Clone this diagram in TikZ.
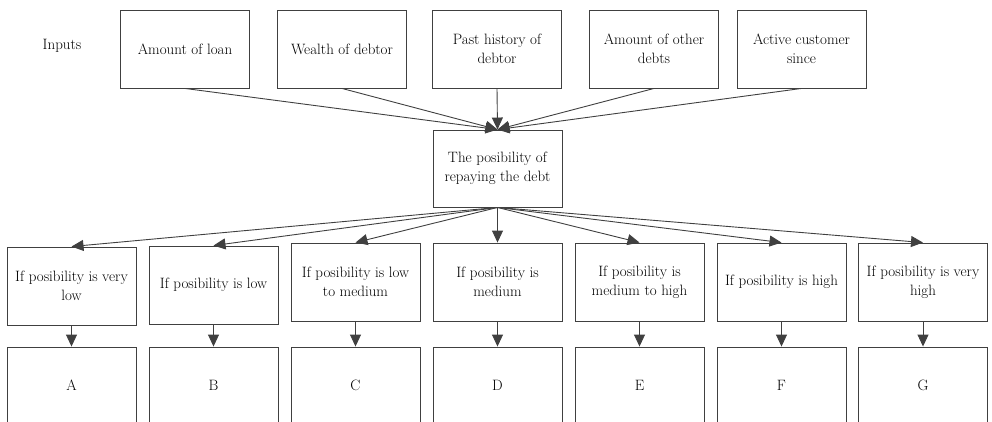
\documentclass[tikz,border=0pt]{standalone}
\usetikzlibrary{arrows.meta}
\begin{document}
\begin{tikzpicture}[x=1pt,y=-1pt,
  txt/.style={font=\rmfamily\fontsize{15}{19}\selectfont, text=black},
  box/.style={txt, draw=black!75, line width=0.9pt, minimum width=129pt, minimum height=78pt,
    inner sep=0pt, align=center},
  link/.style={draw=black!75, line width=0.9pt, -{Triangle[length=12pt,width=11pt]}}]
\useasboundingbox (0,0) rectangle (992,422);

% inputs
\node[txt] (lbl) at (62,46) {Inputs};
\node[box] (i1) at (185,49) {Amount of loan};
\node[box] (i2) at (342,49) {Wealth of debtor};
\node[box] (i3) at (497,49) {Past history of\\debtor};
\node[box] (i4) at (654,49) {Amount of other\\debts};
\node[box] (i5) at (801.5,49) {Active customer\\since};

% aggregated assessment
\node[box, minimum height=77pt] (mid) at (497.5,168.5) {The posibility of\\repaying the debt};

% conditions
\node[box] (cA) at (71.5,286) {If posibility is very\\low};
\node[box] (cB) at (213.5,285) {If posibility is low};
\node[box] (cC) at (355.5,282) {If posibility is low\\to medium};
\node[box] (cD) at (497.5,282) {If posibility is\\medium};
\node[box] (cE) at (639.5,282) {If posibility is\\medium to high};
\node[box] (cF) at (781.5,282) {If posibility is high};
\node[box] (cG) at (923,282) {If posibility is very\\high};

% outcomes
\node[box, minimum height=77pt] (rA) at (71.5,385.5) {A};
\node[box, minimum height=77pt] (rB) at (213.5,385.5) {B};
\node[box, minimum height=77pt] (rC) at (355.5,385.5) {C};
\node[box, minimum height=77pt] (rD) at (497.5,385.5) {D};
\node[box, minimum height=77pt] (rE) at (639.5,385.5) {E};
\node[box, minimum height=77pt] (rF) at (781.5,385.5) {F};
\node[box, minimum height=77pt] (rG) at (923,385.5) {G};

% connectors
\foreach \n in {i1,i2,i3,i4,i5}
  \draw[link] (\n.south) -- (mid.north);
\foreach \n in {A,B,C,D,E,F,G}{
  \draw[link] (mid.south) -- (c\n.north);
  \draw[link] (c\n.south) -- (r\n.north);
}
\end{tikzpicture}
\end{document}
